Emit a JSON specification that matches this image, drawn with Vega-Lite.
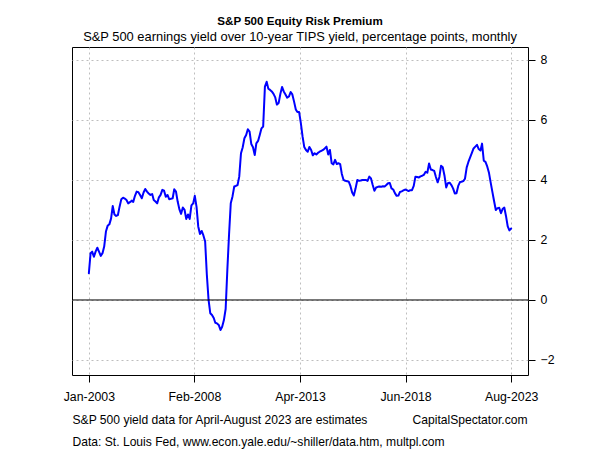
{
  "$schema": "https://vega.github.io/schema/vega-lite/v6.json",
  "width": 456,
  "height": 328,
  "autosize": {"type": "none"},
  "padding": {"left": 72, "top": 47, "right": 72, "bottom": 75},
  "background": "white",
  "config": {
    "font": "Liberation Sans",
    "view": {"stroke": "black", "strokeWidth": 1}
  },
  "title": {
    "text": "S&P 500 Equity Risk Premium",
    "subtitle": "S&P 500 earnings yield over 10-year TIPS yield, percentage points, monthly",
    "anchor": "middle",
    "frame": "group",
    "fontSize": 11.6,
    "fontWeight": "bold",
    "color": "black",
    "subtitleFontSize": 12.9,
    "subtitleColor": "black",
    "subtitlePadding": 4,
    "offset": 3
  },
  "layer": [
    {
      "data": {"values": [
        {"date": "2003-01-01", "erp": 0.89}, {"date": "2003-02-01", "erp": 1.56}, {"date": "2003-03-01", "erp": 1.61}, {"date": "2003-04-01", "erp": 1.44},
        {"date": "2003-05-01", "erp": 1.61}, {"date": "2003-06-01", "erp": 1.74}, {"date": "2003-07-01", "erp": 1.61}, {"date": "2003-08-01", "erp": 1.47},
        {"date": "2003-09-01", "erp": 1.56}, {"date": "2003-10-01", "erp": 1.78}, {"date": "2003-11-01", "erp": 2.28}, {"date": "2003-12-01", "erp": 2.47},
        {"date": "2004-01-01", "erp": 2.52}, {"date": "2004-02-01", "erp": 2.72}, {"date": "2004-03-01", "erp": 3.13}, {"date": "2004-04-01", "erp": 2.85},
        {"date": "2004-05-01", "erp": 2.8}, {"date": "2004-06-01", "erp": 2.83}, {"date": "2004-07-01", "erp": 3.11}, {"date": "2004-08-01", "erp": 3.36},
        {"date": "2004-09-01", "erp": 3.41}, {"date": "2004-10-01", "erp": 3.38}, {"date": "2004-11-01", "erp": 3.33}, {"date": "2004-12-01", "erp": 3.22},
        {"date": "2005-01-01", "erp": 3.26}, {"date": "2005-02-01", "erp": 3.31}, {"date": "2005-03-01", "erp": 3.27}, {"date": "2005-04-01", "erp": 3.47},
        {"date": "2005-05-01", "erp": 3.61}, {"date": "2005-06-01", "erp": 3.59}, {"date": "2005-07-01", "erp": 3.5}, {"date": "2005-08-01", "erp": 3.39},
        {"date": "2005-09-01", "erp": 3.58}, {"date": "2005-10-01", "erp": 3.7}, {"date": "2005-11-01", "erp": 3.61}, {"date": "2005-12-01", "erp": 3.55},
        {"date": "2006-01-01", "erp": 3.5}, {"date": "2006-02-01", "erp": 3.53}, {"date": "2006-03-01", "erp": 3.33}, {"date": "2006-04-01", "erp": 3.28},
        {"date": "2006-05-01", "erp": 3.22}, {"date": "2006-06-01", "erp": 3.42}, {"date": "2006-07-01", "erp": 3.5}, {"date": "2006-08-01", "erp": 3.67},
        {"date": "2006-09-01", "erp": 3.64}, {"date": "2006-10-01", "erp": 3.44}, {"date": "2006-11-01", "erp": 3.5}, {"date": "2006-12-01", "erp": 3.36},
        {"date": "2007-01-01", "erp": 3.37}, {"date": "2007-02-01", "erp": 3.39}, {"date": "2007-03-01", "erp": 3.69}, {"date": "2007-04-01", "erp": 3.61},
        {"date": "2007-05-01", "erp": 3.28}, {"date": "2007-06-01", "erp": 3.02}, {"date": "2007-07-01", "erp": 2.87}, {"date": "2007-08-01", "erp": 3.08},
        {"date": "2007-09-01", "erp": 3.0}, {"date": "2007-10-01", "erp": 2.7}, {"date": "2007-11-01", "erp": 2.85}, {"date": "2007-12-01", "erp": 2.7},
        {"date": "2008-01-01", "erp": 3.15}, {"date": "2008-02-01", "erp": 3.22}, {"date": "2008-03-01", "erp": 3.47}, {"date": "2008-04-01", "erp": 3.1},
        {"date": "2008-05-01", "erp": 2.45}, {"date": "2008-06-01", "erp": 2.2}, {"date": "2008-07-01", "erp": 2.3}, {"date": "2008-08-01", "erp": 2.15},
        {"date": "2008-09-01", "erp": 1.95}, {"date": "2008-10-01", "erp": 0.85}, {"date": "2008-11-01", "erp": 0.0}, {"date": "2008-12-01", "erp": -0.44},
        {"date": "2009-01-01", "erp": -0.5}, {"date": "2009-02-01", "erp": -0.6}, {"date": "2009-03-01", "erp": -0.76}, {"date": "2009-04-01", "erp": -0.78},
        {"date": "2009-05-01", "erp": -0.83}, {"date": "2009-06-01", "erp": -1.0}, {"date": "2009-07-01", "erp": -0.89}, {"date": "2009-08-01", "erp": -0.67},
        {"date": "2009-09-01", "erp": -0.3}, {"date": "2009-10-01", "erp": 1.0}, {"date": "2009-11-01", "erp": 2.2}, {"date": "2009-12-01", "erp": 3.22},
        {"date": "2010-01-01", "erp": 3.45}, {"date": "2010-02-01", "erp": 3.78}, {"date": "2010-03-01", "erp": 3.8}, {"date": "2010-04-01", "erp": 3.83},
        {"date": "2010-05-01", "erp": 4.11}, {"date": "2010-06-01", "erp": 4.89}, {"date": "2010-07-01", "erp": 5.08}, {"date": "2010-08-01", "erp": 5.39},
        {"date": "2010-09-01", "erp": 5.5}, {"date": "2010-10-01", "erp": 5.69}, {"date": "2010-11-01", "erp": 5.61}, {"date": "2010-12-01", "erp": 5.2},
        {"date": "2011-01-01", "erp": 5.09}, {"date": "2011-02-01", "erp": 4.83}, {"date": "2011-03-01", "erp": 5.22}, {"date": "2011-04-01", "erp": 5.3},
        {"date": "2011-05-01", "erp": 5.5}, {"date": "2011-06-01", "erp": 5.72}, {"date": "2011-07-01", "erp": 5.78}, {"date": "2011-08-01", "erp": 7.11},
        {"date": "2011-09-01", "erp": 7.27}, {"date": "2011-10-01", "erp": 7.04}, {"date": "2011-11-01", "erp": 7.0}, {"date": "2011-12-01", "erp": 6.95},
        {"date": "2012-01-01", "erp": 6.87}, {"date": "2012-02-01", "erp": 6.75}, {"date": "2012-03-01", "erp": 6.51}, {"date": "2012-04-01", "erp": 6.56},
        {"date": "2012-05-01", "erp": 6.86}, {"date": "2012-06-01", "erp": 7.1}, {"date": "2012-07-01", "erp": 6.95}, {"date": "2012-08-01", "erp": 6.85},
        {"date": "2012-09-01", "erp": 6.74}, {"date": "2012-10-01", "erp": 6.78}, {"date": "2012-11-01", "erp": 6.93}, {"date": "2012-12-01", "erp": 6.85},
        {"date": "2013-01-01", "erp": 6.61}, {"date": "2013-02-01", "erp": 6.35}, {"date": "2013-03-01", "erp": 6.26}, {"date": "2013-04-01", "erp": 6.26},
        {"date": "2013-05-01", "erp": 5.9}, {"date": "2013-06-01", "erp": 5.45}, {"date": "2013-07-01", "erp": 5.1}, {"date": "2013-08-01", "erp": 5.0},
        {"date": "2013-09-01", "erp": 4.94}, {"date": "2013-10-01", "erp": 5.1}, {"date": "2013-11-01", "erp": 5.0}, {"date": "2013-12-01", "erp": 4.82},
        {"date": "2014-01-01", "erp": 4.89}, {"date": "2014-02-01", "erp": 4.85}, {"date": "2014-03-01", "erp": 4.9}, {"date": "2014-04-01", "erp": 4.94},
        {"date": "2014-05-01", "erp": 4.97}, {"date": "2014-06-01", "erp": 5.0}, {"date": "2014-07-01", "erp": 5.05}, {"date": "2014-08-01", "erp": 5.11},
        {"date": "2014-09-01", "erp": 4.85}, {"date": "2014-10-01", "erp": 5.0}, {"date": "2014-11-01", "erp": 4.56}, {"date": "2014-12-01", "erp": 4.52},
        {"date": "2015-01-01", "erp": 4.67}, {"date": "2015-02-01", "erp": 4.53}, {"date": "2015-03-01", "erp": 4.56}, {"date": "2015-04-01", "erp": 4.53},
        {"date": "2015-05-01", "erp": 4.2}, {"date": "2015-06-01", "erp": 4.0}, {"date": "2015-07-01", "erp": 3.97}, {"date": "2015-08-01", "erp": 3.96},
        {"date": "2015-09-01", "erp": 3.94}, {"date": "2015-10-01", "erp": 3.8}, {"date": "2015-11-01", "erp": 3.58}, {"date": "2015-12-01", "erp": 3.48},
        {"date": "2016-01-01", "erp": 3.72}, {"date": "2016-02-01", "erp": 4.0}, {"date": "2016-03-01", "erp": 3.97}, {"date": "2016-04-01", "erp": 3.98},
        {"date": "2016-05-01", "erp": 4.0}, {"date": "2016-06-01", "erp": 4.0}, {"date": "2016-07-01", "erp": 4.0}, {"date": "2016-08-01", "erp": 3.97},
        {"date": "2016-09-01", "erp": 4.11}, {"date": "2016-10-01", "erp": 4.05}, {"date": "2016-11-01", "erp": 3.83}, {"date": "2016-12-01", "erp": 3.64},
        {"date": "2017-01-01", "erp": 3.75}, {"date": "2017-02-01", "erp": 3.77}, {"date": "2017-03-01", "erp": 3.78}, {"date": "2017-04-01", "erp": 3.77},
        {"date": "2017-05-01", "erp": 3.79}, {"date": "2017-06-01", "erp": 3.78}, {"date": "2017-07-01", "erp": 3.83}, {"date": "2017-08-01", "erp": 3.89},
        {"date": "2017-09-01", "erp": 3.9}, {"date": "2017-10-01", "erp": 3.72}, {"date": "2017-11-01", "erp": 3.68}, {"date": "2017-12-01", "erp": 3.56},
        {"date": "2018-01-01", "erp": 3.47}, {"date": "2018-02-01", "erp": 3.48}, {"date": "2018-03-01", "erp": 3.6}, {"date": "2018-04-01", "erp": 3.62},
        {"date": "2018-05-01", "erp": 3.65}, {"date": "2018-06-01", "erp": 3.68}, {"date": "2018-07-01", "erp": 3.66}, {"date": "2018-08-01", "erp": 3.63},
        {"date": "2018-09-01", "erp": 3.66}, {"date": "2018-10-01", "erp": 3.66}, {"date": "2018-11-01", "erp": 3.8}, {"date": "2018-12-01", "erp": 4.11},
        {"date": "2019-01-01", "erp": 4.1}, {"date": "2019-02-01", "erp": 4.08}, {"date": "2019-03-01", "erp": 4.12}, {"date": "2019-04-01", "erp": 4.14},
        {"date": "2019-05-01", "erp": 4.17}, {"date": "2019-06-01", "erp": 4.27}, {"date": "2019-07-01", "erp": 4.24}, {"date": "2019-08-01", "erp": 4.55},
        {"date": "2019-09-01", "erp": 4.35}, {"date": "2019-10-01", "erp": 4.33}, {"date": "2019-11-01", "erp": 4.3}, {"date": "2019-12-01", "erp": 4.1},
        {"date": "2020-01-01", "erp": 3.92}, {"date": "2020-02-01", "erp": 4.1}, {"date": "2020-03-01", "erp": 4.47}, {"date": "2020-04-01", "erp": 4.42},
        {"date": "2020-05-01", "erp": 4.15}, {"date": "2020-06-01", "erp": 3.75}, {"date": "2020-07-01", "erp": 3.89}, {"date": "2020-08-01", "erp": 3.91},
        {"date": "2020-09-01", "erp": 3.83}, {"date": "2020-10-01", "erp": 3.72}, {"date": "2020-11-01", "erp": 3.55}, {"date": "2020-12-01", "erp": 3.56},
        {"date": "2021-01-01", "erp": 3.8}, {"date": "2021-02-01", "erp": 3.93}, {"date": "2021-03-01", "erp": 3.94}, {"date": "2021-04-01", "erp": 3.96},
        {"date": "2021-05-01", "erp": 4.04}, {"date": "2021-06-01", "erp": 4.42}, {"date": "2021-07-01", "erp": 4.6}, {"date": "2021-08-01", "erp": 4.75},
        {"date": "2021-09-01", "erp": 4.9}, {"date": "2021-10-01", "erp": 5.05}, {"date": "2021-11-01", "erp": 5.11}, {"date": "2021-12-01", "erp": 5.17},
        {"date": "2022-01-01", "erp": 5.03}, {"date": "2022-02-01", "erp": 4.98}, {"date": "2022-03-01", "erp": 5.21}, {"date": "2022-04-01", "erp": 4.64},
        {"date": "2022-05-01", "erp": 4.6}, {"date": "2022-06-01", "erp": 4.45}, {"date": "2022-07-01", "erp": 4.25}, {"date": "2022-08-01", "erp": 3.92},
        {"date": "2022-09-01", "erp": 3.6}, {"date": "2022-10-01", "erp": 3.3}, {"date": "2022-11-01", "erp": 3.0}, {"date": "2022-12-01", "erp": 3.06},
        {"date": "2023-01-01", "erp": 3.07}, {"date": "2023-02-01", "erp": 2.89}, {"date": "2023-03-01", "erp": 3.03}, {"date": "2023-04-01", "erp": 3.08},
        {"date": "2023-05-01", "erp": 2.8}, {"date": "2023-06-01", "erp": 2.45}, {"date": "2023-07-01", "erp": 2.32}, {"date": "2023-08-01", "erp": 2.38}
      ]},
      "mark": {"type": "line", "color": "#0000FF", "strokeWidth": 2, "strokeJoin": "round", "strokeCap": "round", "clip": true},
      "encoding": {
        "x": {
          "field": "date",
          "type": "temporal",
          "scale": {
            "type": "utc",
            "domain": [{"year": 2002, "month": 3, "date": 7, "utc": true}, {"year": 2024, "month": 5, "date": 27, "utc": true}],
            "nice": false
          },
          "axis": {
            "values": [
              {"year": 2003, "month": 1, "date": 1, "utc": true},
              {"year": 2008, "month": 2, "date": 23, "utc": true},
              {"year": 2013, "month": 4, "date": 16, "utc": true},
              {"year": 2018, "month": 6, "date": 8, "utc": true},
              {"year": 2023, "month": 8, "date": 1, "utc": true}
            ],
            "format": "%b-%Y",
            "domain": false,
            "ticks": true,
            "tickColor": "black",
            "tickSize": 7,
            "labelPadding": 8,
            "labelFontSize": 12.3,
            "labelColor": "black",
            "labelFlush": false,
            "labelOverlap": false,
            "grid": true,
            "gridColor": "#bebebe",
            "gridDash": [2, 3],
            "gridWidth": 1,
            "title": ["S&P 500 yield data for April-August 2023 are estimates", "Data: St. Louis Fed, www.econ.yale.edu/~shiller/data.htm, multpl.com"],
            "titleAnchor": "start",
            "titleAlign": "left",
            "titleBaseline": "alphabetic",
            "titleFontSize": 12.1,
            "titleFontWeight": "normal",
            "titleColor": "black",
            "titleLineHeight": 22,
            "titleX": 0,
            "titleY": 48
          }
        },
        "y": {
          "field": "erp",
          "type": "quantitative",
          "scale": {"domain": [-2.5, 8.43], "nice": false, "zero": false},
          "axis": {
            "orient": "right",
            "values": [-2, 0, 2, 4, 6, 8],
            "domain": false,
            "tickColor": "black",
            "tickSize": 7,
            "labelPadding": 5,
            "labelFontSize": 12.3,
            "labelColor": "black",
            "grid": true,
            "gridColor": "#bebebe",
            "gridDash": [2, 3],
            "gridWidth": 1,
            "title": "CapitalSpectator.com",
            "titleAngle": 0,
            "titleAlign": "right",
            "titleBaseline": "alphabetic",
            "titleFontSize": 12.1,
            "titleFontWeight": "normal",
            "titleColor": "black",
            "titleX": -1,
            "titleY": 376
          }
        }
      }
    },
    {
      "data": {"values": [{"level": 0}]},
      "mark": {"type": "rule", "color": "black", "strokeWidth": 1},
      "encoding": {"y": {"field": "level", "type": "quantitative"}}
    }
  ]
}
